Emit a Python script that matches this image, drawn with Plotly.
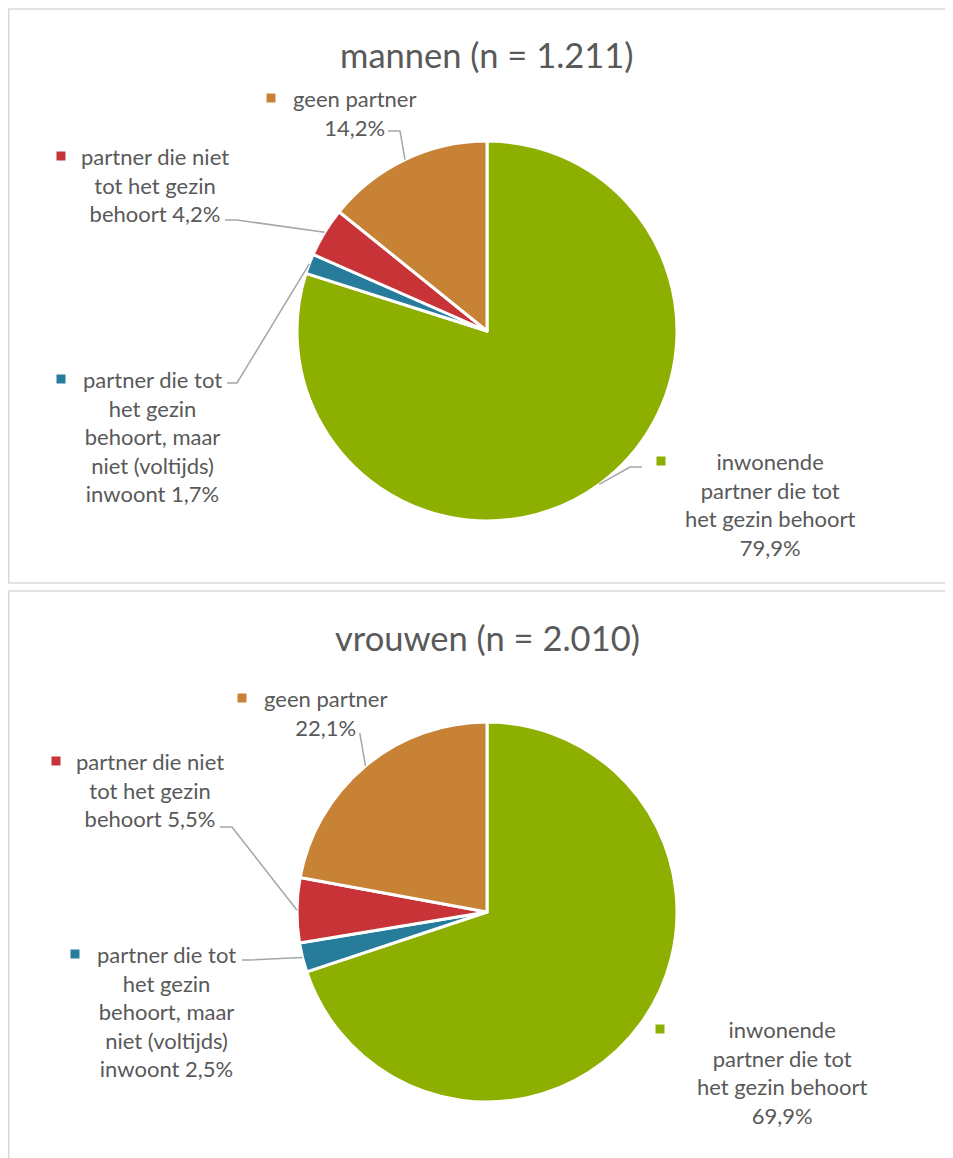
import math
import plotly.graph_objects as go

# the page body adds an 8px margin, so the figure is a bit smaller
# and reference pixel positions are shifted by OFF
W, H = 945, 1150
OFF = 8

# data
categories = ["inwonende partner die tot het gezin behoort",
              "partner die tot het gezin behoort, maar niet (voltijds) inwoont",
              "partner die niet tot het gezin behoort",
              "geen partner"]
label_lines = [["inwonende", "partner die tot", "het gezin behoort"],
               ["partner die tot", "het gezin", "behoort, maar", "niet (voltijds)", "inwoont"],
               ["partner die niet", "tot het gezin", "behoort"],
               ["geen partner"]]
pct_mannen = [79.9, 1.7, 4.2, 14.2]
pct_vrouwen = [69.9, 2.5, 5.5, 22.1]
titles = ["mannen (n = 1.211)", "vrouwen (n = 2.010)"]
colors = ["#8DAF00", "#277C9C", "#C73336", "#C78235"]

FONT = "Lato"
TXT = "#595959"


def px(x):
    return (x - OFF) / W


def py(y):
    return 1 - (y - OFF) / H


def fmt(v):
    return f"{v:.1f}".replace(".", ",") + "%"


# layout per chart: pie centre, radius, title y, label placements
charts = [
    dict(vals=pct_mannen, cx=487, cy=331, r=190, ty=55,
         labels=[(770, 462, 661), (152, 380, 61), (155, 157, 61), (354, 99, 271)],
         leaders=[[(642, 467), (630, 467)], [(227, 383), (237, 383)],
                  [(225, 220), (237, 220)], [(388, 131), (400, 131)]]),
    dict(vals=pct_vrouwen, cx=487, cy=912, r=190, ty=637,
         labels=[(782, 1030, 660), (166, 955, 75), (150, 762, 56), (325, 699, 242)],
         leaders=[None, [(242, 960), (250, 960)],
                  [(220, 827), (232, 827)], [(359, 734), (360, 734)]]),
]

fig = go.Figure()
shapes = []
annotations = []

# chart frames
for y0, y1 in [(9, 583), (591, 1175)]:
    shapes.append(dict(type="rect", xref="paper", yref="paper",
                       x0=px(8.8), x1=px(W + 30), y0=py(y1), y1=py(y0),
                       line=dict(color="#D9D9D9", width=1.5), fillcolor="rgba(0,0,0,0)",
                       layer="below"))

for c, title in zip(charts, titles):
    vals = c["vals"]
    fig.add_trace(go.Pie(
        labels=categories, values=vals, sort=False, direction="clockwise",
        rotation=0, textinfo="none", hoverinfo="label+percent",
        marker=dict(colors=colors, line=dict(color="white", width=3)),
        domain=dict(x=[px(c["cx"] - c["r"]), px(c["cx"] + c["r"])],
                    y=[py(c["cy"] + c["r"]), py(c["cy"] - c["r"])]),
        showlegend=False))

    annotations.append(dict(text=title, x=px(c["cx"]), y=py(c["ty"]),
                            xref="paper", yref="paper", showarrow=False,
                            xanchor="center", yanchor="middle",
                            font=dict(family=FONT, size=34.5, color=TXT)))

    total = sum(vals)
    cum = 0
    for i, v in enumerate(vals):
        mid = (cum + v / 2) / total * 2 * math.pi
        cum += v
        ex = c["cx"] + c["r"] * math.sin(mid)
        ey = c["cy"] - c["r"] * math.cos(mid)

        lines = list(label_lines[i])
        if i in (0, 3):
            lines.append(fmt(v))
        else:
            lines[-1] = lines[-1] + " " + fmt(v)
        lx, ly, kx = c["labels"][i]
        lh = 28.7
        annotations.append(dict(text="<br>".join(lines), x=px(lx),
                                y=py(ly - lh / 2 - 2), xref="paper", yref="paper",
                                showarrow=False, xanchor="center", yanchor="top",
                                align="center",
                                font=dict(family=FONT, size=22, color=TXT)))
        shapes.append(dict(type="rect", xref="paper", yref="paper",
                           x0=px(kx - 4.5), x1=px(kx + 4.5),
                           y0=py(ly + 3.5), y1=py(ly - 5.5),
                           fillcolor=colors[i], line=dict(width=0)))

        ld = c["leaders"][i]
        if ld:
            pts = ld + [(ex, ey)]
            path = "M " + " L ".join(f"{px(x)},{py(y)}" for x, y in pts)
            shapes.append(dict(type="path", xref="paper", yref="paper", path=path,
                               line=dict(color="#A6A6A6", width=1.5)))

fig.update_layout(width=W, height=H, margin=dict(l=0, r=0, t=0, b=0),
                  paper_bgcolor="white", plot_bgcolor="white",
                  shapes=shapes, annotations=annotations)

fig.write_html("out.html")
